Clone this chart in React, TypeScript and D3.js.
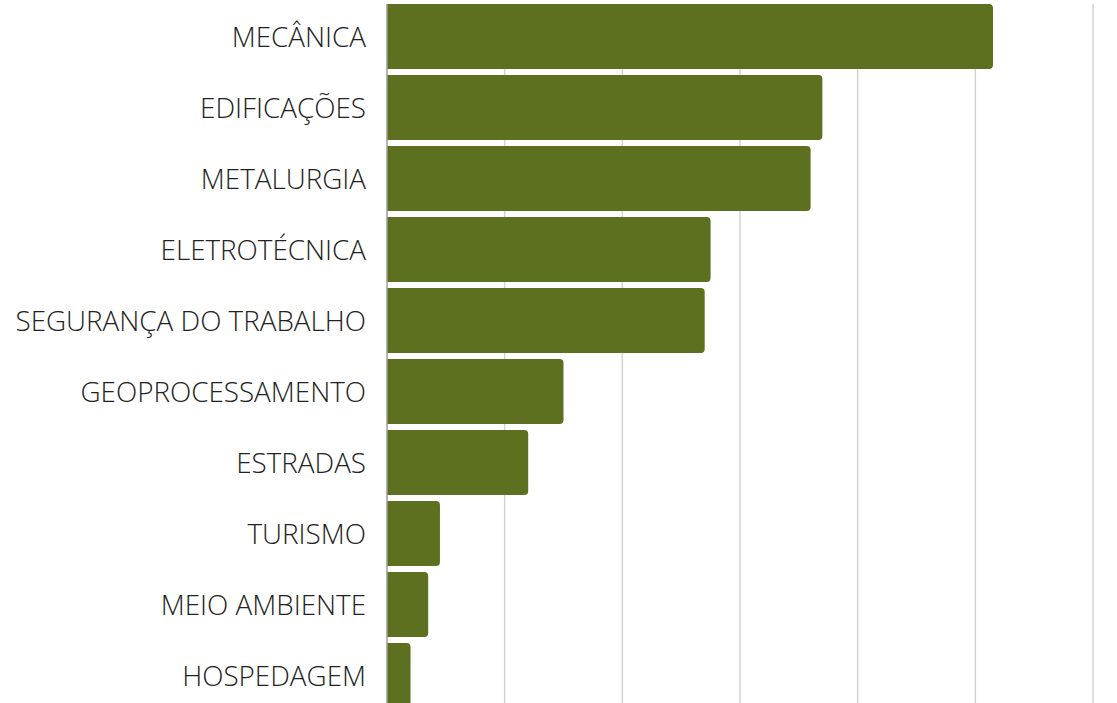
import React, { useEffect, useRef } from 'react';
import * as d3 from 'd3';

const categories = [
  'MECÂNICA',
  'EDIFICAÇÕES',
  'METALURGIA',
  'ELETROTÉCNICA',
  'SEGURANÇA DO TRABALHO',
  'GEOPROCESSAMENTO',
  'ESTRADAS',
  'TURISMO',
  'MEIO AMBIENTE',
  'HOSPEDAGEM',
];
const values = [103, 74, 72, 55, 54, 30, 24, 9, 7, 4];
const gridTicks = [0, 20, 40, 60, 80, 100, 120];

const width = 1117;
const height = 703;

// bar with square left side and rounded right corners
function barPath(x0: number, x1: number, y: number, h: number, r: number) {
  const rr = Math.min(r, (x1 - x0) / 2, h / 2);
  return `M${x0},${y}H${x1 - rr}Q${x1},${y} ${x1},${y + rr}V${y + h - rr}Q${x1},${y + h} ${x1 - rr},${y + h}H${x0}Z`;
}

export default function App() {
  const ref = useRef<SVGSVGElement>(null);

  useEffect(() => {
    const svg = d3.select(ref.current);
    svg.selectAll('*').remove();

    const x = d3.scaleLinear().domain([0, 120]).range([387, 1093]);
    const y = d3
      .scaleBand()
      .domain(categories)
      .range([4, 708])
      .paddingInner(0.085)
      .paddingOuter(0);

    // grid lines
    svg
      .append('g')
      .selectAll('line')
      .data(gridTicks.slice(1))
      .enter()
      .append('line')
      .attr('x1', (d) => x(d))
      .attr('x2', (d) => x(d))
      .attr('y1', 4)
      .attr('y2', height)
      .attr('stroke', '#d3d3d3')
      .attr('stroke-width', 1.5);

    // bars
    svg
      .append('g')
      .selectAll('path')
      .data(values)
      .enter()
      .append('path')
      .attr('d', (d, i) => barPath(x(0), x(d), y(categories[i])!, y.bandwidth(), 4))
      .attr('fill', '#5c7020');

    // axis line
    svg
      .append('line')
      .attr('x1', x(0))
      .attr('x2', x(0))
      .attr('y1', 4)
      .attr('y2', height)
      .attr('stroke', '#9a9a9a')
      .attr('stroke-width', 1.5);

    // category labels
    svg
      .append('g')
      .selectAll('text')
      .data(categories)
      .enter()
      .append('text')
      .attr('x', 366)
      .attr('y', (d) => y(d)! + y.bandwidth() / 2)
      .attr('dy', '0.37em')
      .attr('text-anchor', 'end')
      .style('font-family', '"Open Sans", sans-serif')
      .style('font-weight', 300)
      .style('font-size', '27.8px')
      .style('fill', '#222')
      .text((d) => d);
  }, []);

  return (
    <svg
      ref={ref}
      width={width}
      height={height}
      style={{ position: 'absolute', left: 0, top: 0, background: '#fff' }}
    />
  );
}
